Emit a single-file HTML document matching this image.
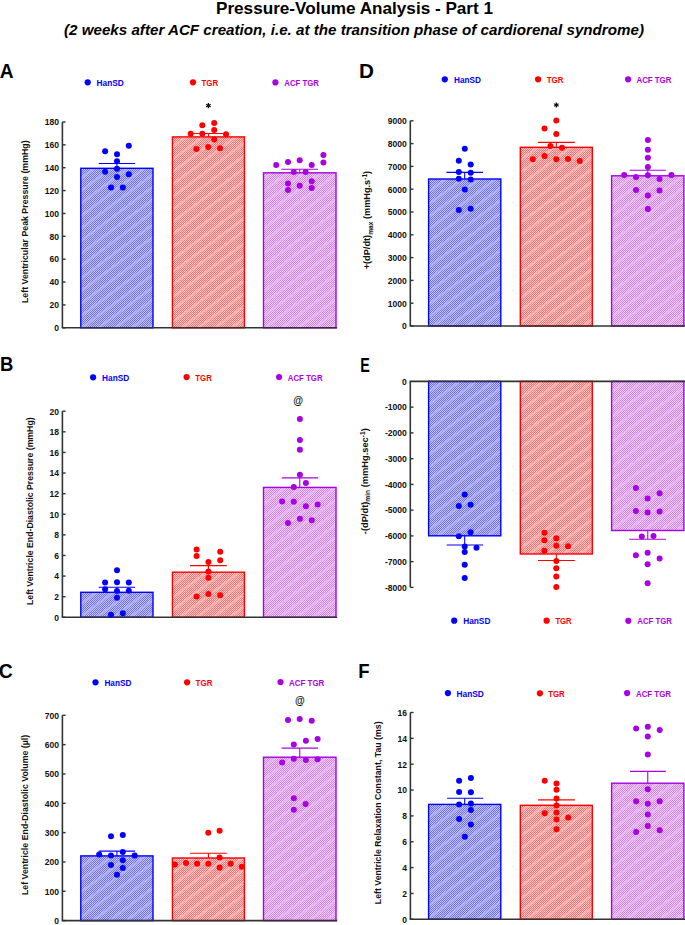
<!DOCTYPE html>
<html><head><meta charset="utf-8"><style>
html,body{margin:0;padding:0;background:#fff;}
svg{display:block;font-family:"Liberation Sans", sans-serif;}
</style></head><body>
<svg width="685" height="925" viewBox="0 0 685 925">
<defs><pattern id="ckb" width="2" height="2" patternUnits="userSpaceOnUse">
<rect width="2" height="2" fill="#c6c6ff"/><rect width="1" height="1" fill="#6c6cff"/><rect x="1" y="1" width="1" height="1" fill="#6c6cff"/></pattern>
<pattern id="stb" width="10" height="10" patternUnits="userSpaceOnUse" patternTransform="rotate(-37)">
<rect y="0" width="10" height="2.4" fill="#b0b0ff"/></pattern><pattern id="ckr" width="2" height="2" patternUnits="userSpaceOnUse">
<rect width="2" height="2" fill="#ffc8c8"/><rect width="1" height="1" fill="#ff7070"/><rect x="1" y="1" width="1" height="1" fill="#ff7070"/></pattern>
<pattern id="str" width="10" height="10" patternUnits="userSpaceOnUse" patternTransform="rotate(-37)">
<rect y="0" width="10" height="2.4" fill="#ffb4b4"/></pattern><pattern id="ckp" width="2" height="2" patternUnits="userSpaceOnUse">
<rect width="2" height="2" fill="#f2d4fa"/><rect width="1" height="1" fill="#d47cf2"/><rect x="1" y="1" width="1" height="1" fill="#d47cf2"/></pattern>
<pattern id="stp" width="10" height="10" patternUnits="userSpaceOnUse" patternTransform="rotate(-37)">
<rect y="0" width="10" height="2.4" fill="#e6b8f7"/></pattern></defs>
<rect width="685" height="925" fill="#fff"/>
<text x="216.00" y="13.80" font-size="16.4" font-weight="bold" font-style="normal" fill="#000" text-anchor="start" textLength="277.00" lengthAdjust="spacingAndGlyphs" >Pressure-Volume Analysis - Part 1</text>
<text x="64.00" y="35.40" font-size="14.6" font-weight="bold" font-style="italic" fill="#000" text-anchor="start" textLength="580.00" lengthAdjust="spacingAndGlyphs" >(2 weeks after ACF creation, i.e. at the transition phase of cardiorenal syndrome)</text>
<g transform="translate(-0.20,0) scale(0.957,1)">
<text x="0.00" y="78.00" font-size="20" font-weight="bold" font-style="normal" fill="#000" text-anchor="start" >A</text>
</g>
<circle cx="87.70" cy="82.30" r="3.1" fill="#0000ff"/>
<text x="96.60" y="85.90" font-size="9.6" font-weight="bold" font-style="normal" fill="#0000ff" text-anchor="start" textLength="27.20" lengthAdjust="spacingAndGlyphs" >HanSD</text>
<circle cx="193.00" cy="82.30" r="3.1" fill="#ff0000"/>
<text x="201.50" y="85.90" font-size="9.6" font-weight="bold" font-style="normal" fill="#ff0000" text-anchor="start" textLength="16.60" lengthAdjust="spacingAndGlyphs" >TGR</text>
<circle cx="275.40" cy="82.40" r="3.1" fill="#a802e2"/>
<text x="284.30" y="86.00" font-size="9.6" font-weight="bold" font-style="normal" fill="#a802e2" text-anchor="start" textLength="34.60" lengthAdjust="spacingAndGlyphs" >ACF TGR</text>
<text transform="translate(28.00,303.00) rotate(-90)" x="0" y="0" font-size="9.4" font-weight="bold" fill="#111" textLength="162.60" lengthAdjust="spacingAndGlyphs">Left Ventricular Peak Pressure (mmHg)</text>
<rect x="80.80" y="168.30" width="72.20" height="159.50" fill="url(#ckb)"/>
<rect x="80.80" y="168.30" width="72.20" height="159.50" fill="url(#stb)"/>
<rect x="80.80" y="168.30" width="72.20" height="159.50" fill="none" stroke="#0000ff" stroke-width="1.4"/>
<rect x="172.40" y="136.90" width="72.00" height="190.90" fill="url(#ckr)"/>
<rect x="172.40" y="136.90" width="72.00" height="190.90" fill="url(#str)"/>
<rect x="172.40" y="136.90" width="72.00" height="190.90" fill="none" stroke="#ff0000" stroke-width="1.4"/>
<rect x="263.50" y="172.80" width="72.50" height="155.00" fill="url(#ckp)"/>
<rect x="263.50" y="172.80" width="72.50" height="155.00" fill="url(#stp)"/>
<rect x="263.50" y="172.80" width="72.50" height="155.00" fill="none" stroke="#a802e2" stroke-width="1.4"/>
<line x1="62.40" y1="122.00" x2="62.40" y2="327.80" stroke="#333" stroke-width="1.6"/>
<line x1="61.75" y1="327.80" x2="337.20" y2="327.80" stroke="#333" stroke-width="1.6"/>
<line x1="62.40" y1="327.80" x2="65.60" y2="327.80" stroke="#333" stroke-width="1.4"/>
<text x="58.90" y="331.10" font-size="9.2" font-weight="bold" font-style="normal" fill="#111" text-anchor="end" textLength="4.75" lengthAdjust="spacingAndGlyphs" >0</text>
<line x1="62.40" y1="304.93" x2="65.60" y2="304.93" stroke="#333" stroke-width="1.4"/>
<text x="58.90" y="308.23" font-size="9.2" font-weight="bold" font-style="normal" fill="#111" text-anchor="end" textLength="9.50" lengthAdjust="spacingAndGlyphs" >20</text>
<line x1="62.40" y1="282.06" x2="65.60" y2="282.06" stroke="#333" stroke-width="1.4"/>
<text x="58.90" y="285.36" font-size="9.2" font-weight="bold" font-style="normal" fill="#111" text-anchor="end" textLength="9.50" lengthAdjust="spacingAndGlyphs" >40</text>
<line x1="62.40" y1="259.19" x2="65.60" y2="259.19" stroke="#333" stroke-width="1.4"/>
<text x="58.90" y="262.49" font-size="9.2" font-weight="bold" font-style="normal" fill="#111" text-anchor="end" textLength="9.50" lengthAdjust="spacingAndGlyphs" >60</text>
<line x1="62.40" y1="236.32" x2="65.60" y2="236.32" stroke="#333" stroke-width="1.4"/>
<text x="58.90" y="239.62" font-size="9.2" font-weight="bold" font-style="normal" fill="#111" text-anchor="end" textLength="9.50" lengthAdjust="spacingAndGlyphs" >80</text>
<line x1="62.40" y1="213.45" x2="65.60" y2="213.45" stroke="#333" stroke-width="1.4"/>
<text x="58.90" y="216.75" font-size="9.2" font-weight="bold" font-style="normal" fill="#111" text-anchor="end" textLength="14.25" lengthAdjust="spacingAndGlyphs" >100</text>
<line x1="62.40" y1="190.58" x2="65.60" y2="190.58" stroke="#333" stroke-width="1.4"/>
<text x="58.90" y="193.88" font-size="9.2" font-weight="bold" font-style="normal" fill="#111" text-anchor="end" textLength="14.25" lengthAdjust="spacingAndGlyphs" >120</text>
<line x1="62.40" y1="167.71" x2="65.60" y2="167.71" stroke="#333" stroke-width="1.4"/>
<text x="58.90" y="171.01" font-size="9.2" font-weight="bold" font-style="normal" fill="#111" text-anchor="end" textLength="14.25" lengthAdjust="spacingAndGlyphs" >140</text>
<line x1="62.40" y1="144.84" x2="65.60" y2="144.84" stroke="#333" stroke-width="1.4"/>
<text x="58.90" y="148.14" font-size="9.2" font-weight="bold" font-style="normal" fill="#111" text-anchor="end" textLength="14.25" lengthAdjust="spacingAndGlyphs" >160</text>
<line x1="62.40" y1="121.97" x2="65.60" y2="121.97" stroke="#333" stroke-width="1.4"/>
<text x="58.90" y="125.27" font-size="9.2" font-weight="bold" font-style="normal" fill="#111" text-anchor="end" textLength="14.25" lengthAdjust="spacingAndGlyphs" >180</text>
<line x1="116.90" y1="168.30" x2="116.90" y2="163.50" stroke="#0000ff" stroke-width="1.1"/>
<line x1="98.80" y1="163.50" x2="135.10" y2="163.50" stroke="#0000ff" stroke-width="1.1"/>
<line x1="208.40" y1="136.90" x2="208.40" y2="133.50" stroke="#ff0000" stroke-width="1.1"/>
<line x1="190.30" y1="133.50" x2="226.50" y2="133.50" stroke="#ff0000" stroke-width="1.1"/>
<line x1="299.75" y1="172.80" x2="299.75" y2="169.30" stroke="#a802e2" stroke-width="1.1"/>
<line x1="281.30" y1="169.30" x2="318.10" y2="169.30" stroke="#a802e2" stroke-width="1.1"/>
<circle cx="128.80" cy="145.80" r="3.0" fill="#0000ff"/>
<circle cx="105.10" cy="151.20" r="3.0" fill="#0000ff"/>
<circle cx="117.00" cy="154.30" r="3.0" fill="#0000ff"/>
<circle cx="117.00" cy="161.30" r="3.0" fill="#0000ff"/>
<circle cx="117.00" cy="168.70" r="3.0" fill="#0000ff"/>
<circle cx="105.10" cy="171.80" r="3.0" fill="#0000ff"/>
<circle cx="128.80" cy="174.20" r="3.0" fill="#0000ff"/>
<circle cx="117.00" cy="177.00" r="3.0" fill="#0000ff"/>
<circle cx="111.00" cy="187.40" r="3.0" fill="#0000ff"/>
<circle cx="122.80" cy="187.40" r="3.0" fill="#0000ff"/>
<circle cx="214.20" cy="122.90" r="3.0" fill="#ff0000"/>
<circle cx="202.30" cy="125.30" r="3.0" fill="#ff0000"/>
<circle cx="214.20" cy="130.10" r="3.0" fill="#ff0000"/>
<circle cx="190.70" cy="133.80" r="3.0" fill="#ff0000"/>
<circle cx="202.30" cy="133.80" r="3.0" fill="#ff0000"/>
<circle cx="226.00" cy="134.30" r="3.0" fill="#ff0000"/>
<circle cx="214.20" cy="139.50" r="3.0" fill="#ff0000"/>
<circle cx="208.20" cy="147.00" r="3.0" fill="#ff0000"/>
<circle cx="196.40" cy="149.00" r="3.0" fill="#ff0000"/>
<circle cx="220.00" cy="148.30" r="3.0" fill="#ff0000"/>
<circle cx="276.20" cy="165.10" r="3.0" fill="#a802e2"/>
<circle cx="288.00" cy="161.90" r="3.0" fill="#a802e2"/>
<circle cx="299.70" cy="160.30" r="3.0" fill="#a802e2"/>
<circle cx="311.70" cy="164.90" r="3.0" fill="#a802e2"/>
<circle cx="323.40" cy="155.00" r="3.0" fill="#a802e2"/>
<circle cx="323.40" cy="162.40" r="3.0" fill="#a802e2"/>
<circle cx="293.80" cy="172.10" r="3.0" fill="#a802e2"/>
<circle cx="305.60" cy="172.10" r="3.0" fill="#a802e2"/>
<circle cx="288.00" cy="183.60" r="3.0" fill="#a802e2"/>
<circle cx="288.00" cy="190.00" r="3.0" fill="#a802e2"/>
<circle cx="299.70" cy="185.70" r="3.0" fill="#a802e2"/>
<circle cx="311.70" cy="181.30" r="3.0" fill="#a802e2"/>
<circle cx="311.70" cy="187.90" r="3.0" fill="#a802e2"/>
<line x1="208.40" y1="103.00" x2="208.40" y2="108.20" stroke="#111" stroke-width="1.3"/>
<line x1="206.15" y1="104.30" x2="210.65" y2="106.90" stroke="#111" stroke-width="1.3"/>
<line x1="206.15" y1="106.90" x2="210.65" y2="104.30" stroke="#111" stroke-width="1.3"/>
<g transform="translate(-0.10,0) scale(0.924,1)">
<text x="0.00" y="371.50" font-size="20" font-weight="bold" font-style="normal" fill="#000" text-anchor="start" >B</text>
</g>
<circle cx="93.10" cy="377.30" r="3.1" fill="#0000ff"/>
<text x="102.10" y="380.90" font-size="9.6" font-weight="bold" font-style="normal" fill="#0000ff" text-anchor="start" textLength="27.10" lengthAdjust="spacingAndGlyphs" >HanSD</text>
<circle cx="186.60" cy="377.10" r="3.1" fill="#ff0000"/>
<text x="195.30" y="380.70" font-size="9.6" font-weight="bold" font-style="normal" fill="#ff0000" text-anchor="start" textLength="16.50" lengthAdjust="spacingAndGlyphs" >TGR</text>
<circle cx="279.10" cy="377.00" r="3.1" fill="#a802e2"/>
<text x="287.70" y="380.60" font-size="9.6" font-weight="bold" font-style="normal" fill="#a802e2" text-anchor="start" textLength="35.00" lengthAdjust="spacingAndGlyphs" >ACF TGR</text>
<text transform="translate(33.30,605.00) rotate(-90)" x="0" y="0" font-size="9.4" font-weight="bold" fill="#111" textLength="187.60" lengthAdjust="spacingAndGlyphs">Left Ventricle End-Diastolic Pressure (mmHg)</text>
<rect x="80.80" y="592.30" width="72.20" height="25.00" fill="url(#ckb)"/>
<rect x="80.80" y="592.30" width="72.20" height="25.00" fill="url(#stb)"/>
<rect x="80.80" y="592.30" width="72.20" height="25.00" fill="none" stroke="#0000ff" stroke-width="1.4"/>
<rect x="172.40" y="572.20" width="72.00" height="45.10" fill="url(#ckr)"/>
<rect x="172.40" y="572.20" width="72.00" height="45.10" fill="url(#str)"/>
<rect x="172.40" y="572.20" width="72.00" height="45.10" fill="none" stroke="#ff0000" stroke-width="1.4"/>
<rect x="263.50" y="487.40" width="72.50" height="129.90" fill="url(#ckp)"/>
<rect x="263.50" y="487.40" width="72.50" height="129.90" fill="url(#stp)"/>
<rect x="263.50" y="487.40" width="72.50" height="129.90" fill="none" stroke="#a802e2" stroke-width="1.4"/>
<line x1="62.40" y1="411.20" x2="62.40" y2="617.30" stroke="#333" stroke-width="1.6"/>
<line x1="61.75" y1="617.30" x2="337.20" y2="617.30" stroke="#333" stroke-width="1.6"/>
<line x1="62.40" y1="617.30" x2="65.60" y2="617.30" stroke="#333" stroke-width="1.4"/>
<text x="58.90" y="620.60" font-size="9.2" font-weight="bold" font-style="normal" fill="#111" text-anchor="end" textLength="4.75" lengthAdjust="spacingAndGlyphs" >0</text>
<line x1="62.40" y1="596.69" x2="65.60" y2="596.69" stroke="#333" stroke-width="1.4"/>
<text x="58.90" y="599.99" font-size="9.2" font-weight="bold" font-style="normal" fill="#111" text-anchor="end" textLength="4.75" lengthAdjust="spacingAndGlyphs" >2</text>
<line x1="62.40" y1="576.08" x2="65.60" y2="576.08" stroke="#333" stroke-width="1.4"/>
<text x="58.90" y="579.38" font-size="9.2" font-weight="bold" font-style="normal" fill="#111" text-anchor="end" textLength="4.75" lengthAdjust="spacingAndGlyphs" >4</text>
<line x1="62.40" y1="555.47" x2="65.60" y2="555.47" stroke="#333" stroke-width="1.4"/>
<text x="58.90" y="558.77" font-size="9.2" font-weight="bold" font-style="normal" fill="#111" text-anchor="end" textLength="4.75" lengthAdjust="spacingAndGlyphs" >6</text>
<line x1="62.40" y1="534.86" x2="65.60" y2="534.86" stroke="#333" stroke-width="1.4"/>
<text x="58.90" y="538.16" font-size="9.2" font-weight="bold" font-style="normal" fill="#111" text-anchor="end" textLength="4.75" lengthAdjust="spacingAndGlyphs" >8</text>
<line x1="62.40" y1="514.25" x2="65.60" y2="514.25" stroke="#333" stroke-width="1.4"/>
<text x="58.90" y="517.55" font-size="9.2" font-weight="bold" font-style="normal" fill="#111" text-anchor="end" textLength="9.50" lengthAdjust="spacingAndGlyphs" >10</text>
<line x1="62.40" y1="493.64" x2="65.60" y2="493.64" stroke="#333" stroke-width="1.4"/>
<text x="58.90" y="496.94" font-size="9.2" font-weight="bold" font-style="normal" fill="#111" text-anchor="end" textLength="9.50" lengthAdjust="spacingAndGlyphs" >12</text>
<line x1="62.40" y1="473.03" x2="65.60" y2="473.03" stroke="#333" stroke-width="1.4"/>
<text x="58.90" y="476.33" font-size="9.2" font-weight="bold" font-style="normal" fill="#111" text-anchor="end" textLength="9.50" lengthAdjust="spacingAndGlyphs" >14</text>
<line x1="62.40" y1="452.42" x2="65.60" y2="452.42" stroke="#333" stroke-width="1.4"/>
<text x="58.90" y="455.72" font-size="9.2" font-weight="bold" font-style="normal" fill="#111" text-anchor="end" textLength="9.50" lengthAdjust="spacingAndGlyphs" >16</text>
<line x1="62.40" y1="431.81" x2="65.60" y2="431.81" stroke="#333" stroke-width="1.4"/>
<text x="58.90" y="435.11" font-size="9.2" font-weight="bold" font-style="normal" fill="#111" text-anchor="end" textLength="9.50" lengthAdjust="spacingAndGlyphs" >18</text>
<line x1="62.40" y1="411.20" x2="65.60" y2="411.20" stroke="#333" stroke-width="1.4"/>
<text x="58.90" y="414.50" font-size="9.2" font-weight="bold" font-style="normal" fill="#111" text-anchor="end" textLength="9.50" lengthAdjust="spacingAndGlyphs" >20</text>
<line x1="116.90" y1="592.30" x2="116.90" y2="587.30" stroke="#0000ff" stroke-width="1.1"/>
<line x1="98.80" y1="587.30" x2="135.10" y2="587.30" stroke="#0000ff" stroke-width="1.1"/>
<line x1="208.40" y1="572.20" x2="208.40" y2="565.60" stroke="#ff0000" stroke-width="1.1"/>
<line x1="190.10" y1="565.60" x2="226.80" y2="565.60" stroke="#ff0000" stroke-width="1.1"/>
<line x1="299.75" y1="487.40" x2="299.75" y2="477.90" stroke="#a802e2" stroke-width="1.1"/>
<line x1="281.80" y1="477.90" x2="318.10" y2="477.90" stroke="#a802e2" stroke-width="1.1"/>
<circle cx="117.00" cy="570.30" r="3.0" fill="#0000ff"/>
<circle cx="105.10" cy="582.60" r="3.0" fill="#0000ff"/>
<circle cx="117.00" cy="582.30" r="3.0" fill="#0000ff"/>
<circle cx="128.80" cy="582.60" r="3.0" fill="#0000ff"/>
<circle cx="105.10" cy="589.30" r="3.0" fill="#0000ff"/>
<circle cx="117.00" cy="591.10" r="3.0" fill="#0000ff"/>
<circle cx="128.80" cy="590.80" r="3.0" fill="#0000ff"/>
<circle cx="117.00" cy="597.80" r="3.0" fill="#0000ff"/>
<circle cx="111.00" cy="614.70" r="3.0" fill="#0000ff"/>
<circle cx="122.80" cy="613.20" r="3.0" fill="#0000ff"/>
<circle cx="196.60" cy="549.50" r="3.0" fill="#ff0000"/>
<circle cx="196.60" cy="555.90" r="3.0" fill="#ff0000"/>
<circle cx="220.20" cy="551.80" r="3.0" fill="#ff0000"/>
<circle cx="220.20" cy="560.30" r="3.0" fill="#ff0000"/>
<circle cx="208.40" cy="561.90" r="3.0" fill="#ff0000"/>
<circle cx="208.40" cy="571.50" r="3.0" fill="#ff0000"/>
<circle cx="208.40" cy="577.80" r="3.0" fill="#ff0000"/>
<circle cx="196.60" cy="596.50" r="3.0" fill="#ff0000"/>
<circle cx="208.40" cy="593.90" r="3.0" fill="#ff0000"/>
<circle cx="220.20" cy="595.30" r="3.0" fill="#ff0000"/>
<circle cx="299.90" cy="418.90" r="3.0" fill="#a802e2"/>
<circle cx="299.90" cy="439.90" r="3.0" fill="#a802e2"/>
<circle cx="299.90" cy="449.80" r="3.0" fill="#a802e2"/>
<circle cx="299.90" cy="474.80" r="3.0" fill="#a802e2"/>
<circle cx="305.90" cy="483.10" r="3.0" fill="#a802e2"/>
<circle cx="293.80" cy="486.90" r="3.0" fill="#a802e2"/>
<circle cx="282.10" cy="501.50" r="3.0" fill="#a802e2"/>
<circle cx="293.80" cy="501.70" r="3.0" fill="#a802e2"/>
<circle cx="305.90" cy="506.30" r="3.0" fill="#a802e2"/>
<circle cx="317.60" cy="504.50" r="3.0" fill="#a802e2"/>
<circle cx="299.90" cy="518.80" r="3.0" fill="#a802e2"/>
<circle cx="288.00" cy="522.90" r="3.0" fill="#a802e2"/>
<circle cx="311.80" cy="520.30" r="3.0" fill="#a802e2"/>
<text x="298.20" y="404.00" font-size="10" font-weight="bold" font-style="normal" fill="#111" text-anchor="middle" >@</text>
<g transform="translate(-1.20,0) scale(0.97,1)">
<text x="0.00" y="678.20" font-size="20" font-weight="bold" font-style="normal" fill="#000" text-anchor="start" >C</text>
</g>
<circle cx="95.50" cy="682.30" r="3.1" fill="#0000ff"/>
<text x="104.40" y="685.90" font-size="9.6" font-weight="bold" font-style="normal" fill="#0000ff" text-anchor="start" textLength="27.00" lengthAdjust="spacingAndGlyphs" >HanSD</text>
<circle cx="187.10" cy="682.30" r="3.1" fill="#ff0000"/>
<text x="195.60" y="685.90" font-size="9.6" font-weight="bold" font-style="normal" fill="#ff0000" text-anchor="start" textLength="16.90" lengthAdjust="spacingAndGlyphs" >TGR</text>
<circle cx="280.50" cy="682.10" r="3.1" fill="#a802e2"/>
<text x="289.00" y="685.70" font-size="9.6" font-weight="bold" font-style="normal" fill="#a802e2" text-anchor="start" textLength="35.30" lengthAdjust="spacingAndGlyphs" >ACF TGR</text>
<text transform="translate(28.00,895.10) rotate(-90)" x="0" y="0" font-size="9.4" font-weight="bold" fill="#111" textLength="160.30" lengthAdjust="spacingAndGlyphs">Lef Ventricle End-Diastolic Volume (µl)</text>
<rect x="80.80" y="855.90" width="72.20" height="64.70" fill="url(#ckb)"/>
<rect x="80.80" y="855.90" width="72.20" height="64.70" fill="url(#stb)"/>
<rect x="80.80" y="855.90" width="72.20" height="64.70" fill="none" stroke="#0000ff" stroke-width="1.4"/>
<rect x="172.40" y="858.00" width="72.00" height="62.60" fill="url(#ckr)"/>
<rect x="172.40" y="858.00" width="72.00" height="62.60" fill="url(#str)"/>
<rect x="172.40" y="858.00" width="72.00" height="62.60" fill="none" stroke="#ff0000" stroke-width="1.4"/>
<rect x="263.50" y="757.20" width="72.50" height="163.40" fill="url(#ckp)"/>
<rect x="263.50" y="757.20" width="72.50" height="163.40" fill="url(#stp)"/>
<rect x="263.50" y="757.20" width="72.50" height="163.40" fill="none" stroke="#a802e2" stroke-width="1.4"/>
<line x1="62.40" y1="715.30" x2="62.40" y2="920.60" stroke="#333" stroke-width="1.6"/>
<line x1="61.75" y1="920.60" x2="337.20" y2="920.60" stroke="#333" stroke-width="1.6"/>
<line x1="62.40" y1="920.60" x2="65.60" y2="920.60" stroke="#333" stroke-width="1.4"/>
<text x="58.90" y="923.90" font-size="9.2" font-weight="bold" font-style="normal" fill="#111" text-anchor="end" textLength="4.75" lengthAdjust="spacingAndGlyphs" >0</text>
<line x1="62.40" y1="891.27" x2="65.60" y2="891.27" stroke="#333" stroke-width="1.4"/>
<text x="58.90" y="894.57" font-size="9.2" font-weight="bold" font-style="normal" fill="#111" text-anchor="end" textLength="14.25" lengthAdjust="spacingAndGlyphs" >100</text>
<line x1="62.40" y1="861.94" x2="65.60" y2="861.94" stroke="#333" stroke-width="1.4"/>
<text x="58.90" y="865.24" font-size="9.2" font-weight="bold" font-style="normal" fill="#111" text-anchor="end" textLength="14.25" lengthAdjust="spacingAndGlyphs" >200</text>
<line x1="62.40" y1="832.61" x2="65.60" y2="832.61" stroke="#333" stroke-width="1.4"/>
<text x="58.90" y="835.91" font-size="9.2" font-weight="bold" font-style="normal" fill="#111" text-anchor="end" textLength="14.25" lengthAdjust="spacingAndGlyphs" >300</text>
<line x1="62.40" y1="803.28" x2="65.60" y2="803.28" stroke="#333" stroke-width="1.4"/>
<text x="58.90" y="806.58" font-size="9.2" font-weight="bold" font-style="normal" fill="#111" text-anchor="end" textLength="14.25" lengthAdjust="spacingAndGlyphs" >400</text>
<line x1="62.40" y1="773.95" x2="65.60" y2="773.95" stroke="#333" stroke-width="1.4"/>
<text x="58.90" y="777.25" font-size="9.2" font-weight="bold" font-style="normal" fill="#111" text-anchor="end" textLength="14.25" lengthAdjust="spacingAndGlyphs" >500</text>
<line x1="62.40" y1="744.62" x2="65.60" y2="744.62" stroke="#333" stroke-width="1.4"/>
<text x="58.90" y="747.92" font-size="9.2" font-weight="bold" font-style="normal" fill="#111" text-anchor="end" textLength="14.25" lengthAdjust="spacingAndGlyphs" >600</text>
<line x1="62.40" y1="715.29" x2="65.60" y2="715.29" stroke="#333" stroke-width="1.4"/>
<text x="58.90" y="718.59" font-size="9.2" font-weight="bold" font-style="normal" fill="#111" text-anchor="end" textLength="14.25" lengthAdjust="spacingAndGlyphs" >700</text>
<line x1="116.90" y1="855.90" x2="116.90" y2="851.10" stroke="#0000ff" stroke-width="1.1"/>
<line x1="98.80" y1="851.10" x2="135.10" y2="851.10" stroke="#0000ff" stroke-width="1.1"/>
<line x1="208.40" y1="858.00" x2="208.40" y2="853.30" stroke="#ff0000" stroke-width="1.1"/>
<line x1="190.10" y1="853.30" x2="226.90" y2="853.30" stroke="#ff0000" stroke-width="1.1"/>
<line x1="299.75" y1="757.20" x2="299.75" y2="748.10" stroke="#a802e2" stroke-width="1.1"/>
<line x1="281.60" y1="748.10" x2="318.00" y2="748.10" stroke="#a802e2" stroke-width="1.1"/>
<circle cx="111.00" cy="836.20" r="3.0" fill="#0000ff"/>
<circle cx="122.80" cy="834.90" r="3.0" fill="#0000ff"/>
<circle cx="122.80" cy="852.00" r="3.0" fill="#0000ff"/>
<circle cx="99.20" cy="854.60" r="3.0" fill="#0000ff"/>
<circle cx="111.00" cy="855.50" r="3.0" fill="#0000ff"/>
<circle cx="134.70" cy="855.50" r="3.0" fill="#0000ff"/>
<circle cx="122.80" cy="860.30" r="3.0" fill="#0000ff"/>
<circle cx="111.00" cy="865.10" r="3.0" fill="#0000ff"/>
<circle cx="122.80" cy="868.00" r="3.0" fill="#0000ff"/>
<circle cx="117.00" cy="874.70" r="3.0" fill="#0000ff"/>
<circle cx="208.30" cy="832.80" r="3.0" fill="#ff0000"/>
<circle cx="219.60" cy="830.70" r="3.0" fill="#ff0000"/>
<circle cx="219.60" cy="857.60" r="3.0" fill="#ff0000"/>
<circle cx="174.90" cy="864.60" r="3.0" fill="#ff0000"/>
<circle cx="186.00" cy="863.00" r="3.0" fill="#ff0000"/>
<circle cx="197.10" cy="863.80" r="3.0" fill="#ff0000"/>
<circle cx="208.30" cy="863.80" r="3.0" fill="#ff0000"/>
<circle cx="219.60" cy="867.60" r="3.0" fill="#ff0000"/>
<circle cx="230.70" cy="863.80" r="3.0" fill="#ff0000"/>
<circle cx="241.80" cy="866.70" r="3.0" fill="#ff0000"/>
<circle cx="288.00" cy="719.90" r="3.0" fill="#a802e2"/>
<circle cx="299.70" cy="719.00" r="3.0" fill="#a802e2"/>
<circle cx="311.70" cy="720.70" r="3.0" fill="#a802e2"/>
<circle cx="317.60" cy="738.90" r="3.0" fill="#a802e2"/>
<circle cx="305.90" cy="740.70" r="3.0" fill="#a802e2"/>
<circle cx="293.80" cy="744.50" r="3.0" fill="#a802e2"/>
<circle cx="293.80" cy="758.80" r="3.0" fill="#a802e2"/>
<circle cx="305.90" cy="760.10" r="3.0" fill="#a802e2"/>
<circle cx="317.60" cy="759.30" r="3.0" fill="#a802e2"/>
<circle cx="282.10" cy="762.40" r="3.0" fill="#a802e2"/>
<circle cx="293.80" cy="798.20" r="3.0" fill="#a802e2"/>
<circle cx="305.60" cy="804.00" r="3.0" fill="#a802e2"/>
<circle cx="293.80" cy="809.80" r="3.0" fill="#a802e2"/>
<text x="300.00" y="704.20" font-size="10" font-weight="bold" font-style="normal" fill="#111" text-anchor="middle" >@</text>
<g transform="translate(358.90,0) scale(1.032,1)">
<text x="0.00" y="77.80" font-size="20" font-weight="bold" font-style="normal" fill="#000" text-anchor="start" >D</text>
</g>
<circle cx="444.80" cy="79.30" r="3.1" fill="#0000ff"/>
<text x="454.10" y="82.90" font-size="9.6" font-weight="bold" font-style="normal" fill="#0000ff" text-anchor="start" textLength="26.90" lengthAdjust="spacingAndGlyphs" >HanSD</text>
<circle cx="538.10" cy="79.30" r="3.1" fill="#ff0000"/>
<text x="546.70" y="82.90" font-size="9.6" font-weight="bold" font-style="normal" fill="#ff0000" text-anchor="start" textLength="16.80" lengthAdjust="spacingAndGlyphs" >TGR</text>
<circle cx="628.10" cy="79.30" r="3.1" fill="#a802e2"/>
<text x="636.50" y="82.90" font-size="9.6" font-weight="bold" font-style="normal" fill="#a802e2" text-anchor="start" textLength="34.90" lengthAdjust="spacingAndGlyphs" >ACF TGR</text>
<rect x="428.60" y="179.00" width="72.20" height="147.00" fill="url(#ckb)"/>
<rect x="428.60" y="179.00" width="72.20" height="147.00" fill="url(#stb)"/>
<rect x="428.60" y="179.00" width="72.20" height="147.00" fill="none" stroke="#0000ff" stroke-width="1.4"/>
<rect x="520.30" y="147.30" width="72.00" height="178.70" fill="url(#ckr)"/>
<rect x="520.30" y="147.30" width="72.00" height="178.70" fill="url(#str)"/>
<rect x="520.30" y="147.30" width="72.00" height="178.70" fill="none" stroke="#ff0000" stroke-width="1.4"/>
<rect x="611.60" y="175.80" width="72.30" height="150.20" fill="url(#ckp)"/>
<rect x="611.60" y="175.80" width="72.30" height="150.20" fill="url(#stp)"/>
<rect x="611.60" y="175.80" width="72.30" height="150.20" fill="none" stroke="#a802e2" stroke-width="1.4"/>
<line x1="410.30" y1="120.80" x2="410.30" y2="326.00" stroke="#333" stroke-width="1.6"/>
<line x1="409.65" y1="326.00" x2="685.50" y2="326.00" stroke="#333" stroke-width="1.6"/>
<line x1="410.30" y1="326.00" x2="413.50" y2="326.00" stroke="#333" stroke-width="1.4"/>
<text x="406.80" y="329.30" font-size="9.2" font-weight="bold" font-style="normal" fill="#111" text-anchor="end" textLength="4.75" lengthAdjust="spacingAndGlyphs" >0</text>
<line x1="410.30" y1="303.20" x2="413.50" y2="303.20" stroke="#333" stroke-width="1.4"/>
<text x="406.80" y="306.50" font-size="9.2" font-weight="bold" font-style="normal" fill="#111" text-anchor="end" textLength="19.00" lengthAdjust="spacingAndGlyphs" >1000</text>
<line x1="410.30" y1="280.40" x2="413.50" y2="280.40" stroke="#333" stroke-width="1.4"/>
<text x="406.80" y="283.70" font-size="9.2" font-weight="bold" font-style="normal" fill="#111" text-anchor="end" textLength="19.00" lengthAdjust="spacingAndGlyphs" >2000</text>
<line x1="410.30" y1="257.60" x2="413.50" y2="257.60" stroke="#333" stroke-width="1.4"/>
<text x="406.80" y="260.90" font-size="9.2" font-weight="bold" font-style="normal" fill="#111" text-anchor="end" textLength="19.00" lengthAdjust="spacingAndGlyphs" >3000</text>
<line x1="410.30" y1="234.80" x2="413.50" y2="234.80" stroke="#333" stroke-width="1.4"/>
<text x="406.80" y="238.10" font-size="9.2" font-weight="bold" font-style="normal" fill="#111" text-anchor="end" textLength="19.00" lengthAdjust="spacingAndGlyphs" >4000</text>
<line x1="410.30" y1="212.00" x2="413.50" y2="212.00" stroke="#333" stroke-width="1.4"/>
<text x="406.80" y="215.30" font-size="9.2" font-weight="bold" font-style="normal" fill="#111" text-anchor="end" textLength="19.00" lengthAdjust="spacingAndGlyphs" >5000</text>
<line x1="410.30" y1="189.20" x2="413.50" y2="189.20" stroke="#333" stroke-width="1.4"/>
<text x="406.80" y="192.50" font-size="9.2" font-weight="bold" font-style="normal" fill="#111" text-anchor="end" textLength="19.00" lengthAdjust="spacingAndGlyphs" >6000</text>
<line x1="410.30" y1="166.40" x2="413.50" y2="166.40" stroke="#333" stroke-width="1.4"/>
<text x="406.80" y="169.70" font-size="9.2" font-weight="bold" font-style="normal" fill="#111" text-anchor="end" textLength="19.00" lengthAdjust="spacingAndGlyphs" >7000</text>
<line x1="410.30" y1="143.60" x2="413.50" y2="143.60" stroke="#333" stroke-width="1.4"/>
<text x="406.80" y="146.90" font-size="9.2" font-weight="bold" font-style="normal" fill="#111" text-anchor="end" textLength="19.00" lengthAdjust="spacingAndGlyphs" >8000</text>
<line x1="410.30" y1="120.80" x2="413.50" y2="120.80" stroke="#333" stroke-width="1.4"/>
<text x="406.80" y="124.10" font-size="9.2" font-weight="bold" font-style="normal" fill="#111" text-anchor="end" textLength="19.00" lengthAdjust="spacingAndGlyphs" >9000</text>
<line x1="464.70" y1="179.00" x2="464.70" y2="172.40" stroke="#0000ff" stroke-width="1.1"/>
<line x1="446.40" y1="172.40" x2="483.00" y2="172.40" stroke="#0000ff" stroke-width="1.1"/>
<line x1="556.30" y1="147.30" x2="556.30" y2="142.40" stroke="#ff0000" stroke-width="1.1"/>
<line x1="538.10" y1="142.40" x2="574.80" y2="142.40" stroke="#ff0000" stroke-width="1.1"/>
<line x1="647.75" y1="175.80" x2="647.75" y2="170.30" stroke="#a802e2" stroke-width="1.1"/>
<line x1="629.60" y1="170.30" x2="665.80" y2="170.30" stroke="#a802e2" stroke-width="1.1"/>
<circle cx="464.80" cy="148.80" r="3.0" fill="#0000ff"/>
<circle cx="458.80" cy="160.80" r="3.0" fill="#0000ff"/>
<circle cx="470.70" cy="164.50" r="3.0" fill="#0000ff"/>
<circle cx="458.80" cy="172.00" r="3.0" fill="#0000ff"/>
<circle cx="470.70" cy="172.80" r="3.0" fill="#0000ff"/>
<circle cx="458.80" cy="178.70" r="3.0" fill="#0000ff"/>
<circle cx="470.70" cy="179.60" r="3.0" fill="#0000ff"/>
<circle cx="464.80" cy="189.50" r="3.0" fill="#0000ff"/>
<circle cx="458.80" cy="210.00" r="3.0" fill="#0000ff"/>
<circle cx="470.70" cy="208.70" r="3.0" fill="#0000ff"/>
<circle cx="556.30" cy="120.60" r="3.0" fill="#ff0000"/>
<circle cx="544.50" cy="128.50" r="3.0" fill="#ff0000"/>
<circle cx="556.30" cy="133.90" r="3.0" fill="#ff0000"/>
<circle cx="550.40" cy="145.90" r="3.0" fill="#ff0000"/>
<circle cx="562.00" cy="147.80" r="3.0" fill="#ff0000"/>
<circle cx="544.50" cy="156.00" r="3.0" fill="#ff0000"/>
<circle cx="532.80" cy="159.30" r="3.0" fill="#ff0000"/>
<circle cx="556.30" cy="159.30" r="3.0" fill="#ff0000"/>
<circle cx="568.00" cy="158.90" r="3.0" fill="#ff0000"/>
<circle cx="579.80" cy="161.00" r="3.0" fill="#ff0000"/>
<circle cx="647.90" cy="140.10" r="3.0" fill="#a802e2"/>
<circle cx="647.90" cy="149.80" r="3.0" fill="#a802e2"/>
<circle cx="647.90" cy="157.70" r="3.0" fill="#a802e2"/>
<circle cx="647.90" cy="166.90" r="3.0" fill="#a802e2"/>
<circle cx="624.20" cy="174.90" r="3.0" fill="#a802e2"/>
<circle cx="636.00" cy="177.10" r="3.0" fill="#a802e2"/>
<circle cx="647.90" cy="175.30" r="3.0" fill="#a802e2"/>
<circle cx="659.50" cy="179.00" r="3.0" fill="#a802e2"/>
<circle cx="671.40" cy="174.90" r="3.0" fill="#a802e2"/>
<circle cx="636.00" cy="189.90" r="3.0" fill="#a802e2"/>
<circle cx="659.50" cy="190.60" r="3.0" fill="#a802e2"/>
<circle cx="647.90" cy="195.50" r="3.0" fill="#a802e2"/>
<circle cx="647.90" cy="209.00" r="3.0" fill="#a802e2"/>
<line x1="556.35" y1="102.40" x2="556.35" y2="107.60" stroke="#111" stroke-width="1.3"/>
<line x1="554.10" y1="103.70" x2="558.60" y2="106.30" stroke="#111" stroke-width="1.3"/>
<line x1="554.10" y1="106.30" x2="558.60" y2="103.70" stroke="#111" stroke-width="1.3"/>
<text transform="translate(370.4,269.3) rotate(-90)" font-size="9.2" font-weight="bold" fill="#111">+(dP/dt)<tspan font-size="6.6" dy="2.2">max</tspan><tspan dy="-2.2"> (mmHg.s</tspan><tspan font-size="6.6" dy="-3.2">-1</tspan><tspan dy="3.2">)</tspan></text>
<g transform="translate(360.30,0) scale(0.713,1)">
<text x="0.00" y="371.80" font-size="20" font-weight="bold" font-style="normal" fill="#000" text-anchor="start" >E</text>
</g>
<circle cx="454.20" cy="620.70" r="3.1" fill="#0000ff"/>
<text x="463.20" y="624.30" font-size="9.6" font-weight="bold" font-style="normal" fill="#0000ff" text-anchor="start" textLength="27.20" lengthAdjust="spacingAndGlyphs" >HanSD</text>
<circle cx="546.60" cy="620.70" r="3.1" fill="#ff0000"/>
<text x="555.40" y="624.30" font-size="9.6" font-weight="bold" font-style="normal" fill="#ff0000" text-anchor="start" textLength="16.20" lengthAdjust="spacingAndGlyphs" >TGR</text>
<circle cx="628.30" cy="620.80" r="3.1" fill="#a802e2"/>
<text x="637.30" y="624.40" font-size="9.6" font-weight="bold" font-style="normal" fill="#a802e2" text-anchor="start" textLength="34.70" lengthAdjust="spacingAndGlyphs" >ACF TGR</text>
<rect x="428.60" y="381.40" width="72.20" height="154.40" fill="url(#ckb)"/>
<rect x="428.60" y="381.40" width="72.20" height="154.40" fill="url(#stb)"/>
<rect x="428.60" y="381.40" width="72.20" height="154.40" fill="none" stroke="#0000ff" stroke-width="1.4"/>
<rect x="520.30" y="381.40" width="72.00" height="172.60" fill="url(#ckr)"/>
<rect x="520.30" y="381.40" width="72.00" height="172.60" fill="url(#str)"/>
<rect x="520.30" y="381.40" width="72.00" height="172.60" fill="none" stroke="#ff0000" stroke-width="1.4"/>
<rect x="611.60" y="381.40" width="72.30" height="149.10" fill="url(#ckp)"/>
<rect x="611.60" y="381.40" width="72.30" height="149.10" fill="url(#stp)"/>
<rect x="611.60" y="381.40" width="72.30" height="149.10" fill="none" stroke="#a802e2" stroke-width="1.4"/>
<line x1="410.3" y1="381.4" x2="410.3" y2="587.40" stroke="#333" stroke-width="1.6"/>
<line x1="409.65" y1="381.4" x2="685.5" y2="381.4" stroke="#333" stroke-width="1.6"/>
<text x="406.80" y="384.70" font-size="9.2" font-weight="bold" font-style="normal" fill="#111" text-anchor="end" textLength="4.75" lengthAdjust="spacingAndGlyphs" >0</text>
<line x1="410.3" y1="407.15" x2="413.5" y2="407.15" stroke="#333" stroke-width="1.4"/>
<text x="406.80" y="410.45" font-size="9.2" font-weight="bold" font-style="normal" fill="#111" text-anchor="end" textLength="21.90" lengthAdjust="spacingAndGlyphs" >-1000</text>
<line x1="410.3" y1="432.90" x2="413.5" y2="432.90" stroke="#333" stroke-width="1.4"/>
<text x="406.80" y="436.20" font-size="9.2" font-weight="bold" font-style="normal" fill="#111" text-anchor="end" textLength="21.90" lengthAdjust="spacingAndGlyphs" >-2000</text>
<line x1="410.3" y1="458.65" x2="413.5" y2="458.65" stroke="#333" stroke-width="1.4"/>
<text x="406.80" y="461.95" font-size="9.2" font-weight="bold" font-style="normal" fill="#111" text-anchor="end" textLength="21.90" lengthAdjust="spacingAndGlyphs" >-3000</text>
<line x1="410.3" y1="484.40" x2="413.5" y2="484.40" stroke="#333" stroke-width="1.4"/>
<text x="406.80" y="487.70" font-size="9.2" font-weight="bold" font-style="normal" fill="#111" text-anchor="end" textLength="21.90" lengthAdjust="spacingAndGlyphs" >-4000</text>
<line x1="410.3" y1="510.15" x2="413.5" y2="510.15" stroke="#333" stroke-width="1.4"/>
<text x="406.80" y="513.45" font-size="9.2" font-weight="bold" font-style="normal" fill="#111" text-anchor="end" textLength="21.90" lengthAdjust="spacingAndGlyphs" >-5000</text>
<line x1="410.3" y1="535.90" x2="413.5" y2="535.90" stroke="#333" stroke-width="1.4"/>
<text x="406.80" y="539.20" font-size="9.2" font-weight="bold" font-style="normal" fill="#111" text-anchor="end" textLength="21.90" lengthAdjust="spacingAndGlyphs" >-6000</text>
<line x1="410.3" y1="561.65" x2="413.5" y2="561.65" stroke="#333" stroke-width="1.4"/>
<text x="406.80" y="564.95" font-size="9.2" font-weight="bold" font-style="normal" fill="#111" text-anchor="end" textLength="21.90" lengthAdjust="spacingAndGlyphs" >-7000</text>
<line x1="410.3" y1="587.40" x2="413.5" y2="587.40" stroke="#333" stroke-width="1.4"/>
<text x="406.80" y="590.70" font-size="9.2" font-weight="bold" font-style="normal" fill="#111" text-anchor="end" textLength="21.90" lengthAdjust="spacingAndGlyphs" >-8000</text>
<line x1="464.70" y1="535.80" x2="464.70" y2="545.00" stroke="#0000ff" stroke-width="1.1"/>
<line x1="446.70" y1="545.00" x2="483.10" y2="545.00" stroke="#0000ff" stroke-width="1.1"/>
<line x1="556.30" y1="554.00" x2="556.30" y2="560.50" stroke="#ff0000" stroke-width="1.1"/>
<line x1="538.00" y1="560.50" x2="574.80" y2="560.50" stroke="#ff0000" stroke-width="1.1"/>
<line x1="647.75" y1="530.50" x2="647.75" y2="539.30" stroke="#a802e2" stroke-width="1.1"/>
<line x1="629.20" y1="539.30" x2="665.90" y2="539.30" stroke="#a802e2" stroke-width="1.1"/>
<circle cx="464.70" cy="494.50" r="3.0" fill="#0000ff"/>
<circle cx="458.80" cy="506.00" r="3.0" fill="#0000ff"/>
<circle cx="470.60" cy="504.70" r="3.0" fill="#0000ff"/>
<circle cx="470.60" cy="532.30" r="3.0" fill="#0000ff"/>
<circle cx="458.80" cy="536.20" r="3.0" fill="#0000ff"/>
<circle cx="464.70" cy="546.40" r="3.0" fill="#0000ff"/>
<circle cx="476.50" cy="547.70" r="3.0" fill="#0000ff"/>
<circle cx="464.70" cy="552.00" r="3.0" fill="#0000ff"/>
<circle cx="464.70" cy="564.70" r="3.0" fill="#0000ff"/>
<circle cx="464.70" cy="577.90" r="3.0" fill="#0000ff"/>
<circle cx="544.40" cy="532.70" r="3.0" fill="#ff0000"/>
<circle cx="544.40" cy="540.20" r="3.0" fill="#ff0000"/>
<circle cx="544.40" cy="550.70" r="3.0" fill="#ff0000"/>
<circle cx="556.30" cy="538.20" r="3.0" fill="#ff0000"/>
<circle cx="556.30" cy="545.70" r="3.0" fill="#ff0000"/>
<circle cx="568.00" cy="546.20" r="3.0" fill="#ff0000"/>
<circle cx="556.30" cy="561.10" r="3.0" fill="#ff0000"/>
<circle cx="556.30" cy="568.30" r="3.0" fill="#ff0000"/>
<circle cx="556.30" cy="576.40" r="3.0" fill="#ff0000"/>
<circle cx="556.30" cy="586.90" r="3.0" fill="#ff0000"/>
<circle cx="635.90" cy="487.90" r="3.0" fill="#a802e2"/>
<circle cx="659.60" cy="493.20" r="3.0" fill="#a802e2"/>
<circle cx="647.60" cy="498.50" r="3.0" fill="#a802e2"/>
<circle cx="635.90" cy="511.10" r="3.0" fill="#a802e2"/>
<circle cx="647.60" cy="512.50" r="3.0" fill="#a802e2"/>
<circle cx="659.60" cy="511.50" r="3.0" fill="#a802e2"/>
<circle cx="641.80" cy="536.40" r="3.0" fill="#a802e2"/>
<circle cx="653.50" cy="536.10" r="3.0" fill="#a802e2"/>
<circle cx="635.90" cy="555.30" r="3.0" fill="#a802e2"/>
<circle cx="647.60" cy="552.70" r="3.0" fill="#a802e2"/>
<circle cx="659.60" cy="558.60" r="3.0" fill="#a802e2"/>
<circle cx="647.60" cy="564.20" r="3.0" fill="#a802e2"/>
<circle cx="647.60" cy="583.20" r="3.0" fill="#a802e2"/>
<text transform="translate(368.0,534.2) rotate(-90)" font-size="9.3" font-weight="bold" fill="#111">-(dP/dt)<tspan font-size="6.6" dy="2.2">min</tspan><tspan dy="-2.2"> (mmHg.sec</tspan><tspan font-size="6.6" dy="-3.2">-1</tspan><tspan dy="3.2">)</tspan></text>
<g transform="translate(358.30,0) scale(0.925,1)">
<text x="0.00" y="678.00" font-size="20" font-weight="bold" font-style="normal" fill="#000" text-anchor="start" >F</text>
</g>
<circle cx="447.90" cy="693.10" r="3.1" fill="#0000ff"/>
<text x="456.60" y="696.70" font-size="9.6" font-weight="bold" font-style="normal" fill="#0000ff" text-anchor="start" textLength="27.20" lengthAdjust="spacingAndGlyphs" >HanSD</text>
<circle cx="539.90" cy="693.30" r="3.1" fill="#ff0000"/>
<text x="548.20" y="696.90" font-size="9.6" font-weight="bold" font-style="normal" fill="#ff0000" text-anchor="start" textLength="16.60" lengthAdjust="spacingAndGlyphs" >TGR</text>
<circle cx="627.10" cy="693.10" r="3.1" fill="#a802e2"/>
<text x="636.00" y="696.70" font-size="9.6" font-weight="bold" font-style="normal" fill="#a802e2" text-anchor="start" textLength="35.00" lengthAdjust="spacingAndGlyphs" >ACF TGR</text>
<text transform="translate(381.20,904.20) rotate(-90)" x="0" y="0" font-size="9.4" font-weight="bold" fill="#111" textLength="182.80" lengthAdjust="spacingAndGlyphs">Left Ventricle Relaxation Constant, Tau (ms)</text>
<rect x="428.60" y="804.40" width="72.20" height="114.90" fill="url(#ckb)"/>
<rect x="428.60" y="804.40" width="72.20" height="114.90" fill="url(#stb)"/>
<rect x="428.60" y="804.40" width="72.20" height="114.90" fill="none" stroke="#0000ff" stroke-width="1.4"/>
<rect x="520.30" y="805.30" width="72.00" height="114.00" fill="url(#ckr)"/>
<rect x="520.30" y="805.30" width="72.00" height="114.00" fill="url(#str)"/>
<rect x="520.30" y="805.30" width="72.00" height="114.00" fill="none" stroke="#ff0000" stroke-width="1.4"/>
<rect x="611.60" y="783.20" width="72.30" height="136.10" fill="url(#ckp)"/>
<rect x="611.60" y="783.20" width="72.30" height="136.10" fill="url(#stp)"/>
<rect x="611.60" y="783.20" width="72.30" height="136.10" fill="none" stroke="#a802e2" stroke-width="1.4"/>
<line x1="410.40" y1="712.50" x2="410.40" y2="919.30" stroke="#333" stroke-width="1.6"/>
<line x1="409.75" y1="919.30" x2="685.50" y2="919.30" stroke="#333" stroke-width="1.6"/>
<line x1="410.40" y1="919.30" x2="413.60" y2="919.30" stroke="#333" stroke-width="1.4"/>
<text x="406.90" y="922.60" font-size="9.2" font-weight="bold" font-style="normal" fill="#111" text-anchor="end" textLength="4.75" lengthAdjust="spacingAndGlyphs" >0</text>
<line x1="410.40" y1="893.45" x2="413.60" y2="893.45" stroke="#333" stroke-width="1.4"/>
<text x="406.90" y="896.75" font-size="9.2" font-weight="bold" font-style="normal" fill="#111" text-anchor="end" textLength="4.75" lengthAdjust="spacingAndGlyphs" >2</text>
<line x1="410.40" y1="867.60" x2="413.60" y2="867.60" stroke="#333" stroke-width="1.4"/>
<text x="406.90" y="870.90" font-size="9.2" font-weight="bold" font-style="normal" fill="#111" text-anchor="end" textLength="4.75" lengthAdjust="spacingAndGlyphs" >4</text>
<line x1="410.40" y1="841.75" x2="413.60" y2="841.75" stroke="#333" stroke-width="1.4"/>
<text x="406.90" y="845.05" font-size="9.2" font-weight="bold" font-style="normal" fill="#111" text-anchor="end" textLength="4.75" lengthAdjust="spacingAndGlyphs" >6</text>
<line x1="410.40" y1="815.90" x2="413.60" y2="815.90" stroke="#333" stroke-width="1.4"/>
<text x="406.90" y="819.20" font-size="9.2" font-weight="bold" font-style="normal" fill="#111" text-anchor="end" textLength="4.75" lengthAdjust="spacingAndGlyphs" >8</text>
<line x1="410.40" y1="790.05" x2="413.60" y2="790.05" stroke="#333" stroke-width="1.4"/>
<text x="406.90" y="793.35" font-size="9.2" font-weight="bold" font-style="normal" fill="#111" text-anchor="end" textLength="9.50" lengthAdjust="spacingAndGlyphs" >10</text>
<line x1="410.40" y1="764.20" x2="413.60" y2="764.20" stroke="#333" stroke-width="1.4"/>
<text x="406.90" y="767.50" font-size="9.2" font-weight="bold" font-style="normal" fill="#111" text-anchor="end" textLength="9.50" lengthAdjust="spacingAndGlyphs" >12</text>
<line x1="410.40" y1="738.35" x2="413.60" y2="738.35" stroke="#333" stroke-width="1.4"/>
<text x="406.90" y="741.65" font-size="9.2" font-weight="bold" font-style="normal" fill="#111" text-anchor="end" textLength="9.50" lengthAdjust="spacingAndGlyphs" >14</text>
<line x1="410.40" y1="712.50" x2="413.60" y2="712.50" stroke="#333" stroke-width="1.4"/>
<text x="406.90" y="715.80" font-size="9.2" font-weight="bold" font-style="normal" fill="#111" text-anchor="end" textLength="9.50" lengthAdjust="spacingAndGlyphs" >16</text>
<line x1="464.70" y1="804.40" x2="464.70" y2="798.30" stroke="#0000ff" stroke-width="1.1"/>
<line x1="447.10" y1="798.30" x2="483.20" y2="798.30" stroke="#0000ff" stroke-width="1.1"/>
<line x1="556.30" y1="805.30" x2="556.30" y2="799.90" stroke="#ff0000" stroke-width="1.1"/>
<line x1="538.10" y1="799.90" x2="574.80" y2="799.90" stroke="#ff0000" stroke-width="1.1"/>
<line x1="647.75" y1="783.20" x2="647.75" y2="771.40" stroke="#a802e2" stroke-width="1.1"/>
<line x1="630.00" y1="771.40" x2="665.80" y2="771.40" stroke="#a802e2" stroke-width="1.1"/>
<circle cx="459.10" cy="780.80" r="3.0" fill="#0000ff"/>
<circle cx="470.90" cy="778.00" r="3.0" fill="#0000ff"/>
<circle cx="459.10" cy="792.10" r="3.0" fill="#0000ff"/>
<circle cx="470.90" cy="792.30" r="3.0" fill="#0000ff"/>
<circle cx="459.10" cy="804.60" r="3.0" fill="#0000ff"/>
<circle cx="470.90" cy="803.50" r="3.0" fill="#0000ff"/>
<circle cx="470.90" cy="810.10" r="3.0" fill="#0000ff"/>
<circle cx="459.10" cy="819.10" r="3.0" fill="#0000ff"/>
<circle cx="470.90" cy="824.50" r="3.0" fill="#0000ff"/>
<circle cx="464.90" cy="836.80" r="3.0" fill="#0000ff"/>
<circle cx="544.70" cy="780.70" r="3.0" fill="#ff0000"/>
<circle cx="556.50" cy="783.50" r="3.0" fill="#ff0000"/>
<circle cx="556.50" cy="789.70" r="3.0" fill="#ff0000"/>
<circle cx="556.50" cy="798.40" r="3.0" fill="#ff0000"/>
<circle cx="556.50" cy="805.60" r="3.0" fill="#ff0000"/>
<circle cx="544.70" cy="813.20" r="3.0" fill="#ff0000"/>
<circle cx="556.50" cy="812.40" r="3.0" fill="#ff0000"/>
<circle cx="568.20" cy="817.40" r="3.0" fill="#ff0000"/>
<circle cx="556.50" cy="819.60" r="3.0" fill="#ff0000"/>
<circle cx="556.50" cy="829.30" r="3.0" fill="#ff0000"/>
<circle cx="636.10" cy="728.50" r="3.0" fill="#a802e2"/>
<circle cx="647.80" cy="726.80" r="3.0" fill="#a802e2"/>
<circle cx="659.70" cy="729.90" r="3.0" fill="#a802e2"/>
<circle cx="647.80" cy="736.60" r="3.0" fill="#a802e2"/>
<circle cx="647.80" cy="754.50" r="3.0" fill="#a802e2"/>
<circle cx="647.80" cy="789.30" r="3.0" fill="#a802e2"/>
<circle cx="636.10" cy="801.20" r="3.0" fill="#a802e2"/>
<circle cx="647.80" cy="803.80" r="3.0" fill="#a802e2"/>
<circle cx="659.70" cy="801.20" r="3.0" fill="#a802e2"/>
<circle cx="647.80" cy="814.60" r="3.0" fill="#a802e2"/>
<circle cx="647.80" cy="826.10" r="3.0" fill="#a802e2"/>
<circle cx="636.10" cy="831.90" r="3.0" fill="#a802e2"/>
<circle cx="659.70" cy="830.30" r="3.0" fill="#a802e2"/>
</svg></body></html>
